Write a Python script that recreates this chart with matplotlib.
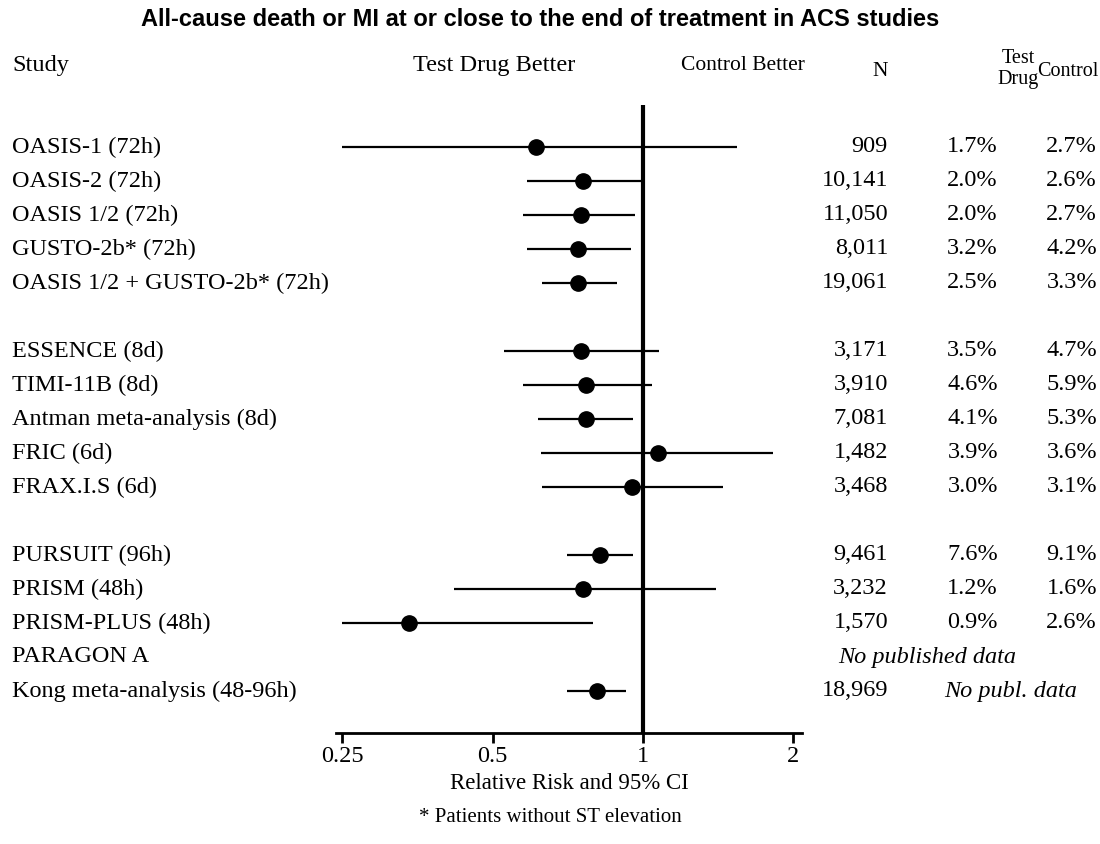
import matplotlib
matplotlib.use("Agg")
import matplotlib.pyplot as plt
from matplotlib.transforms import blended_transform_factory

# rows of the forest plot (None = gap row)
studies = ["OASIS-1 (72h)", "OASIS-2 (72h)", "OASIS 1/2 (72h)", "GUSTO-2b* (72h)",
           "OASIS 1/2 + GUSTO-2b* (72h)", None,
           "ESSENCE (8d)", "TIMI-11B (8d)", "Antman meta-analysis (8d)", "FRIC (6d)",
           "FRAX.I.S (6d)", None,
           "PURSUIT (96h)", "PRISM (48h)", "PRISM-PLUS (48h)", "PARAGON A",
           "Kong meta-analysis (48-96h)"]
rr = [0.61, 0.76, 0.75, 0.74, 0.74, None,
      0.75, 0.77, 0.77, 1.07, 0.95, None,
      0.82, 0.76, 0.34, None, 0.81]
lo = [0.25, 0.586, 0.575, 0.586, 0.628, None,
      0.527, 0.575, 0.616, 0.625, 0.628, None,
      0.705, 0.419, 0.25, None, 0.705]
hi = [1.54, 1.0, 0.964, 0.946, 0.887, None,
      1.076, 1.042, 0.955, 1.82, 1.446, None,
      0.955, 1.40, 0.794, None, 0.925]
n_pat = ["909", "10,141", "11,050", "8,011", "19,061", None,
         "3,171", "3,910", "7,081", "1,482", "3,468", None,
         "9,461", "3,232", "1,570", "", "18,969"]
test_pct = ["1.7%", "2.0%", "2.0%", "3.2%", "2.5%", None,
            "3.5%", "4.6%", "4.1%", "3.9%", "3.0%", None,
            "7.6%", "1.2%", "0.9%", "", ""]
ctrl_pct = ["2.7%", "2.6%", "2.7%", "4.2%", "3.3%", None,
            "4.7%", "5.9%", "5.3%", "3.6%", "3.1%", None,
            "9.1%", "1.6%", "2.6%", "", ""]
xticks = [0.25, 0.5, 1, 2]
xtick_labels = ["0.25", "0.5", "1", "2"]

W, H = 1100, 844
serif = "Liberation Serif"
fs = 17.5

fig = plt.figure(figsize=(W / 100, H / 100), dpi=100)

# axes placed in pixel coordinates
ax_l, ax_r, ax_t, ax_b = 336, 802, 105, 733
ax = fig.add_axes([ax_l / W, 1 - ax_b / H, (ax_r - ax_l) / W, (ax_b - ax_t) / H])
ax.set_xscale("log", base=2)
ax.set_xlim(0.243, 2.08)
row0, step = 147, 34
ax.set_ylim((ax_b - row0) / step, (ax_t - row0) / step)

for i, name in enumerate(studies):
    if rr[i] is None:
        continue
    ax.plot([lo[i], hi[i]], [i, i], color="black", lw=1.6, solid_capstyle="butt")
    ax.plot(rr[i], i, "o", color="black", ms=11)

ax.axvline(1, color="black", lw=3)

for s in ["top", "right", "left"]:
    ax.spines[s].set_visible(False)
ax.spines["bottom"].set_linewidth(2)
ax.set_yticks([])
ax.set_xticks(xticks)
ax.set_xticklabels(xtick_labels, fontfamily=serif, fontsize=fs)
ax.minorticks_off()
ax.tick_params(axis="x", direction="out", length=7, width=2, pad=2)
ax.set_xlabel("Relative Risk and 95% CI", fontfamily=serif, fontsize=16.5, labelpad=5)


def fx(px):
    return px / W


def fy(py):
    return 1 - py / H


tr = blended_transform_factory(fig.transFigure, ax.transData)
for i, name in enumerate(studies):
    if name is None:
        continue
    ax.text(fx(12), i, name, transform=tr, ha="left", va="center",
            fontfamily=serif, fontsize=fs)
    if n_pat[i]:
        ax.text(fx(888), i, n_pat[i], transform=tr, ha="right", va="center",
                fontfamily=serif, fontsize=fs)
    if test_pct[i]:
        ax.text(fx(998), i, test_pct[i], transform=tr, ha="right", va="center",
                fontfamily=serif, fontsize=fs)
    if ctrl_pct[i]:
        ax.text(fx(1097), i, ctrl_pct[i], transform=tr, ha="right", va="center",
                fontfamily=serif, fontsize=fs)

ax.text(fx(838), studies.index("PARAGON A"), "No published data", transform=tr,
        ha="left", va="center", fontfamily=serif, fontsize=fs, style="italic")
ax.text(fx(944), len(studies) - 1, "No publ. data", transform=tr,
        ha="left", va="center", fontfamily=serif, fontsize=fs, style="italic")

# header
fig.text(fx(540), fy(20), "All-cause death or MI at or close to the end of treatment in ACS studies",
         ha="center", va="center", fontfamily="Liberation Sans", fontweight="bold", fontsize=17)
fig.text(fx(12), fy(66), "Study", ha="left", va="center", fontfamily=serif, fontsize=fs)
fig.text(fx(494), fy(66), "Test Drug Better", ha="center", va="center", fontfamily=serif, fontsize=fs)
fig.text(fx(743), fy(66), "Control Better", ha="center", va="center", fontfamily=serif, fontsize=15.5)
fig.text(fx(880), fy(71), "N", ha="center", va="center", fontfamily=serif, fontsize=15.5)
fig.text(fx(1018), fy(69), "Test\nDrug", ha="center", va="center", fontfamily=serif,
         fontsize=14.5, linespacing=1.15)
fig.text(fx(1099), fy(71), "Control", ha="right", va="center", fontfamily=serif, fontsize=14.5)

fig.text(fx(550), fy(818), "* Patients without ST elevation", ha="center", va="center",
         fontfamily=serif, fontsize=15)

fig.savefig("out.png", dpi=100)
